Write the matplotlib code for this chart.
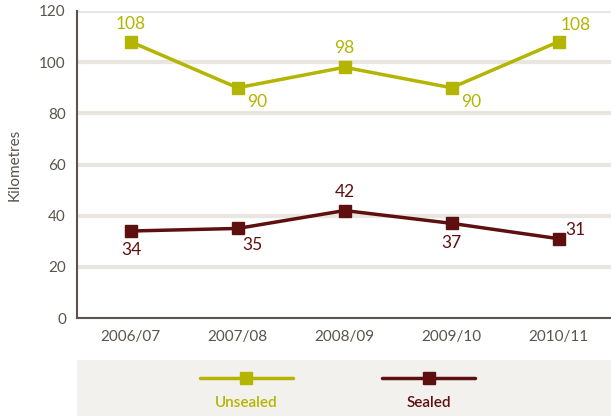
import matplotlib
matplotlib.use("Agg")
import matplotlib.pyplot as plt
from matplotlib.lines import Line2D
from matplotlib.patches import Rectangle

years = ["2006/07", "2007/08", "2008/09", "2009/10", "2010/11"]
unsealed = [108, 90, 98, 90, 108]
sealed = [34, 35, 42, 37, 31]

# label offsets in points (dx, dy) for each point
unsealed_offsets = [(0, 13), (14, -10), (0, 14), (14, -10), (12, 12)]
sealed_offsets = [(1, -14), (11, -12), (0, 13), (0, -14), (12, 6)]

olive = "#b3b500"
maroon = "#5e1010"
grid_col = "#e9e5df"
text_col = "#5a544c"

plt.rcParams['font.family'] = ['Lato', 'DejaVu Sans']

fig = plt.figure(figsize=(6.11, 4.16), dpi=100)
ax = fig.add_axes([77 / 611, 1 - 318 / 416, 1 - 77 / 611, 307 / 416])

x = list(range(len(years)))
ax.plot(x, unsealed, color=olive, lw=2.5, marker="s", ms=8, clip_on=False, zorder=3)
ax.plot(x, sealed, color=maroon, lw=2.5, marker="s", ms=8, clip_on=False, zorder=3)

for xi, v, (dx, dy) in zip(x, unsealed, unsealed_offsets):
    ax.annotate(str(v), (xi, v), xytext=(dx, dy), textcoords="offset points",
                ha="center", va="center", color=olive, fontsize=12.5)
for xi, v, (dx, dy) in zip(x, sealed, sealed_offsets):
    ax.annotate(str(v), (xi, v), xytext=(dx, dy), textcoords="offset points",
                ha="center", va="center", color=maroon, fontsize=12.5)

ax.set_xlim(-0.5, 4.49)
ax.set_ylim(0, 120)
ax.set_yticks(range(0, 121, 20))
ax.set_xticks(x)
ax.set_xticklabels(years)
for yv in range(20, 121, 20):
    ax.axhline(yv, color=grid_col, lw=3, zorder=0)

for s in ["top", "right"]:
    ax.spines[s].set_visible(False)
for s in ["left", "bottom"]:
    ax.spines[s].set_color(text_col)
    ax.spines[s].set_linewidth(1.5)
ax.tick_params(length=0, colors=text_col, labelsize=11, pad=8)
ax.tick_params(axis="x", pad=9)
ax.set_ylabel("Kilometres", color=text_col, fontsize=11, labelpad=13)

# legend strip along the bottom
lax = fig.add_axes([77 / 611, 0, 1 - 77 / 611, 56 / 416])
lax.set_xlim(0, 1)
lax.set_ylim(0, 1)
lax.axis("off")
lax.add_patch(Rectangle((0, 0), 1, 1, color="#f3f1ed", zorder=0))
entries = [("Unsealed", olive, 0.317), ("Sealed", maroon, 0.659)]
for name, col, cx in entries:
    lax.add_line(Line2D([cx - 0.087, cx + 0.087], [0.67, 0.67], color=col, lw=2.5,
                        solid_capstyle="round"))
    lax.add_line(Line2D([cx], [0.67], color=col, marker="s", ms=8))
    lax.text(cx, 0.24, name, color=col, ha="center", va="center",
             fontsize=11, fontweight="semibold")

fig.savefig("out.png", dpi=100)
